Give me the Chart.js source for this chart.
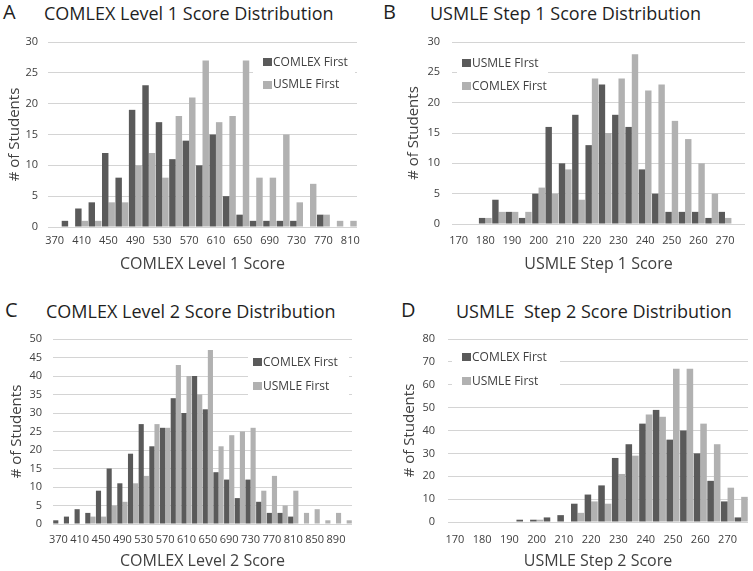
<!DOCTYPE html>
<html>
<head>
<meta charset="utf-8">
<script src="https://cdn.jsdelivr.net/npm/chart.js@4.4.0/dist/chart.umd.min.js"></script>
<style>
  body { margin: 0; background: #fff; width: 753px; height: 571px; position: relative; overflow: hidden; font-family: 'Open Sans', sans-serif; }
  canvas { position: absolute; }
  .letter { position: absolute; font-size: 20px; line-height: 20px; color: #1f1f1f; }
  .title { position: absolute; font-size: 18px; line-height: 18px; color: #1f1f1f; white-space: pre; }
  .legend-bg { position: absolute; background: #fff; }
  .sq { position: absolute; width: 9px; height: 8px; }
  .item { position: absolute; font-size: 12px; line-height: 12px; color: #404040; white-space: pre; }
</style>
</head>
<body>
<div class="letter" style="left:3px;top:2px">A</div>
<div class="title" style="left:44px;top:4px">COMLEX Level 1 Score Distribution</div>
<div class="letter" style="left:383px;top:2px">B</div>
<div class="title" style="left:430px;top:4px">USMLE Step 1 Score Distribution</div>
<div class="letter" style="left:5px;top:300px">C</div>
<div class="title" style="left:46px;top:302px">COMLEX Level 2 Score Distribution</div>
<div class="letter" style="left:401px;top:300px">D</div>
<div class="title" style="left:456px;top:302px">USMLE  Step 2 Score Distribution</div>

<canvas id="chartA" width="376" height="285" style="left:0;top:0"></canvas>
<canvas id="chartB" width="377" height="285" style="left:376px;top:0"></canvas>
<canvas id="chartC" width="376" height="281" style="left:0;top:290px"></canvas>
<canvas id="chartD" width="377" height="281" style="left:376px;top:290px"></canvas>

<script>
// A: COMLEX Level 1
const comlex1Scores = ['370','390','410','430','450','470','490','510','530','550','570','590','610','630','650','670','690','710','730','750','770','790','810'];
const comlex1ComlexFirst = [0,1,3,4,12,8,19,23,17,11,14,10,15,5,2,1,1,1,1,0,2,0,0];
const comlex1UsmleFirst  = [0,0,1,1,4,4,10,12,8,18,21,27,17,18,27,8,8,15,4,7,2,1,1];

// B: USMLE Step 1
const usmle1Scores = ['170','175','180','185','190','195','200','205','210','215','220','225','230','235','240','245','250','255','260','265','270','275'];
const usmle1UsmleFirst  = [0,0,1,4,2,1,5,16,10,18,13,23,18,16,9,5,2,2,2,1,2,0];
const usmle1ComlexFirst = [0,0,1,2,2,2,6,5,9,4,24,15,24,28,22,23,17,14,10,5,1,0];

// C: COMLEX Level 2
const comlex2Scores = ['370','390','410','430','450','470','490','510','530','550','570','590','610','630','650','670','690','710','730','750','770','790','810','830','850','870','890','910'];
const comlex2ComlexFirst = [1,2,4,3,9,15,11,19,27,21,26,34,30,40,31,14,12,7,12,6,3,3,2,0,0,0,0,0];
const comlex2UsmleFirst  = [0,0,0,2,2,5,6,11,13,27,26,43,40,35,47,21,24,25,26,9,13,5,9,3,4,1,3,1];

// D: USMLE Step 2
const usmle2Scores = ['170','175','180','185','190','195','200','205','210','215','220','225','230','235','240','245','250','255','260','265','270','275'];
const usmle2ComlexFirst = [0,0,0,0,0,1,1,2,3,8,12,16,28,34,43,49,36,40,30,18,9,2];
const usmle2UsmleFirst  = [0,0,0,0,0,0,1,0,0,4,9,8,21,29,47,46,67,67,43,34,15,11];

const DARK = '#5a5a5a';
const LIGHT = '#b1b1b1';
const TEXT = '#404040';
const FONT = 'Open Sans';

function drawPanel(id, labels, series, opt) {
  return new Chart(document.getElementById(id), {
    type: 'bar',
    data: {
      labels: labels,
      datasets: series.map(function (s) {
        return { label: s.label, data: s.data, backgroundColor: s.color,
                 categoryPercentage: 0.96, barPercentage: 1.0 };
      })
    },
    options: {
      responsive: false,
      animation: false,
      layout: { padding: opt.padding },
      plugins: { legend: { display: false }, tooltip: { enabled: false } },
      scales: {
        x: {
          grid: { display: false, drawTicks: false },
          border: { display: false },
          ticks: {
            autoSkip: false, maxRotation: 0, minRotation: 0,
            padding: opt.xTickPad, color: TEXT,
            font: { family: FONT, size: 11 },
            callback: function (v, i) { return i % 2 === 0 ? this.getLabelForValue(v) : ''; }
          },
          title: { display: true, text: opt.xTitle, color: TEXT,
                   font: { family: FONT, size: 16 }, padding: { top: 0, bottom: opt.xTitlePad } },
          afterFit: function (s) { s.height = opt.xHeight; }
        },
        y: {
          min: 0, max: opt.yMax,
          grid: { color: '#d4d4d4', drawTicks: false },
          border: { display: false },
          ticks: { stepSize: opt.yStep, padding: opt.yTickPad, color: TEXT,
                   font: { family: FONT, size: 11 } },
          title: { display: true, text: '# of Students', color: TEXT,
                   font: { family: FONT, size: 15 }, padding: { top: 0, bottom: 0 } },
          afterFit: function (s) { s.width = opt.yWidth; }
        }
      }
    }
  });
}

// legend patches, page coordinates
function addLegend(chart, box, items) {
  var bg = document.createElement('div');
  bg.className = 'legend-bg';
  bg.style.left = box[0] + 'px'; bg.style.top = box[1] + 'px';
  bg.style.width = box[2] + 'px'; bg.style.height = box[3] + 'px';
  document.body.appendChild(bg);
  chart.data.datasets.forEach(function (ds, i) {
    var p = items[i];
    var sq = document.createElement('div');
    sq.className = 'sq';
    sq.style.left = p.sx + 'px'; sq.style.top = (p.cy - 4) + 'px';
    sq.style.background = ds.backgroundColor;
    document.body.appendChild(sq);
    var t = document.createElement('div');
    t.className = 'item';
    t.textContent = ds.label;
    t.style.left = p.tx + 'px'; t.style.top = (p.cy - 6.5) + 'px';
    document.body.appendChild(t);
  });
}

var chartA = drawPanel('chartA', comlex1Scores, [
  { label: 'COMLEX First', data: comlex1ComlexFirst, color: DARK },
  { label: 'USMLE First', data: comlex1UsmleFirst, color: LIGHT }
], { padding: { left: 6, top: 42, right: 19, bottom: 0 }, yWidth: 42, xHeight: 58,
     yMax: 30, yStep: 5, xTickPad: 7, yTickPad: 10, xTitle: 'COMLEX Level 1 Score', xTitlePad: 11 });

var chartB = drawPanel('chartB', usmle1Scores, [
  { label: 'USMLE FIrst', data: usmle1UsmleFirst, color: DARK },
  { label: 'COMLEX First', data: usmle1ComlexFirst, color: LIGHT }
], { padding: { left: 29, top: 42, right: 8, bottom: 0 }, yWidth: 47, xHeight: 61,
     yMax: 30, yStep: 5, xTickPad: 10, yTickPad: 12, xTitle: 'USMLE Step 1 Score', xTitlePad: 11 });

var chartC = drawPanel('chartC', comlex2Scores, [
  { label: 'COMLEX First', data: comlex2ComlexFirst, color: DARK },
  { label: 'USMLE First', data: comlex2UsmleFirst, color: LIGHT }
], { padding: { left: 8, top: 49, right: 24, bottom: 0 }, yWidth: 45, xHeight: 47,
     yMax: 50, yStep: 5, xTickPad: 9, yTickPad: 11, xTitle: 'COMLEX Level 2 Score', xTitlePad: 0 });

var chartD = drawPanel('chartD', usmle2Scores, [
  { label: 'COMLEX First', data: usmle2ComlexFirst, color: DARK },
  { label: 'USMLE First', data: usmle2UsmleFirst, color: LIGHT }
], { padding: { left: 25, top: 49, right: 5, bottom: 0 }, yWidth: 47, xHeight: 49,
     yMax: 80, yStep: 10, xTickPad: 11, yTickPad: 13, xTitle: 'USMLE Step 2 Score', xTitlePad: 0 });

addLegend(chartA, [253, 50, 102, 46], [{ sx: 263, cy: 62, tx: 273 }, { sx: 263, cy: 84.5, tx: 273 }]);
addLegend(chartB, [457, 50, 91, 47], [{ sx: 462, cy: 63, tx: 472 }, { sx: 462, cy: 86, tx: 472 }]);
addLegend(chartC, [248, 350, 101, 47], [{ sx: 253, cy: 362, tx: 263 }, { sx: 253, cy: 386, tx: 263 }]);
addLegend(chartD, [452, 343, 108, 51], [{ sx: 462, cy: 357, tx: 472 }, { sx: 462, cy: 381, tx: 472 }]);
</script>
</body>
</html>
